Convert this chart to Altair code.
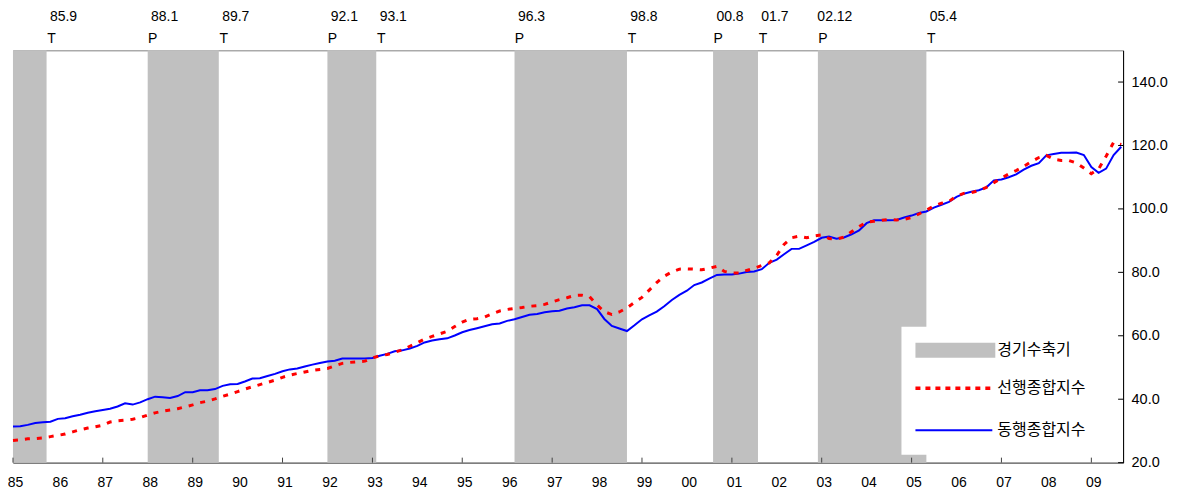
import altair as alt
import pandas as pd

# ---------------- data ----------------
# bi-monthly observations, Jan 1985 .. Sep 2009
first_month = "1985-01-01"
n_obs = 149

leading_index = [
    27.0, 27.2, 27.5, 27.6, 27.8, 28.2, 28.6, 29.0, 29.7, 30.4,
    30.9, 31.3, 31.8, 32.8, 33.2, 33.4, 33.7, 34.2, 35.0, 35.7,
    36.2, 36.6, 37.0, 37.6, 38.2, 38.9, 39.4, 40.1, 40.9, 41.6,
    42.4, 43.2, 43.9, 44.6, 45.3, 46.0, 46.9, 47.6, 48.1, 48.6,
    49.1, 49.4, 49.7, 50.5, 51.3, 51.6, 51.8, 52.0, 53.0, 53.7,
    54.1, 54.8, 55.6, 56.7, 57.8, 59.0, 59.8, 60.6, 61.4, 62.9,
    64.3, 65.2, 65.4, 65.9, 66.9, 67.8, 68.3, 68.6, 68.9, 69.3,
    69.5, 69.9, 70.7, 71.4, 72.0, 72.7, 72.8, 72.3, 69.7, 67.6,
    66.7, 67.5, 68.8, 70.5, 72.1, 74.4, 76.8, 78.8, 80.1, 81.0,
    81.1, 81.0, 80.8, 81.3, 81.9, 80.3, 79.8, 79.8, 80.6, 81.3,
    82.2, 83.0, 85.4, 88.8, 90.9, 91.4, 90.9, 91.5, 91.8, 90.7,
    90.5, 91.1, 92.8, 94.4, 95.9, 96.1, 96.4, 96.7, 96.5, 96.7,
    97.3, 98.4, 99.6, 100.9, 101.8, 102.4, 104.0, 104.9, 105.1, 105.8,
    106.8, 108.3, 109.7, 111.0, 112.1, 113.4, 114.9, 116.2, 116.9, 115.7,
    115.3, 115.3, 114.5, 112.9, 111.1, 112.6, 116.6, 121.0, 120.3,
]

coincident_index = [
    31.4, 31.5, 31.9, 32.5, 32.7, 32.9, 33.8, 34.0, 34.6, 35.1,
    35.7, 36.2, 36.6, 37.0, 37.7, 38.7, 38.3, 39.0, 40.0, 40.8,
    40.6, 40.4, 41.0, 42.2, 42.2, 42.8, 42.8, 43.2, 44.2, 44.7,
    44.8, 45.6, 46.5, 46.6, 47.3, 48.0, 48.8, 49.4, 49.7, 50.3,
    50.9, 51.4, 51.9, 52.1, 52.8, 52.8, 52.8, 52.8, 53.0, 53.7,
    54.3, 55.1, 55.4, 56.0, 56.8, 57.9, 58.5, 58.9, 59.2, 60.1,
    61.1, 61.8, 62.4, 63.0, 63.6, 63.9, 64.7, 65.2, 65.9, 66.6,
    66.9, 67.4, 67.7, 67.9, 68.6, 69.0, 69.6, 69.6, 68.4, 65.3,
    63.1, 62.3, 61.5, 63.3, 65.2, 66.4, 67.6, 69.3, 71.3, 72.9,
    74.2, 76.0, 76.8, 78.0, 79.2, 79.3, 79.3, 79.6, 80.1, 80.3,
    81.0, 83.0, 84.0, 85.7, 87.4, 87.4, 88.5, 89.6, 90.9, 91.3,
    90.6, 91.0, 92.0, 93.2, 95.5, 96.4, 96.4, 96.4, 96.5, 97.3,
    97.9, 98.7, 99.2, 100.4, 101.3, 102.2, 103.8, 104.8, 105.4, 105.9,
    106.8, 109.0, 109.3, 110.0, 110.9, 112.4, 113.6, 114.4, 116.9, 117.3,
    117.7, 117.7, 117.8, 117.0, 113.2, 111.4, 112.7, 117.0, 119.6,
]

# business-cycle contractions (peak month -> trough month)
contraction_start = ["1985-01", "1988-01", "1992-01", "1996-03", "2000-08", "2002-12"]
contraction_end = ["1985-09", "1989-07", "1993-01", "1998-08", "2001-07", "2005-04"]

# turning points shown above the plot
turn_labels = ["85.9", "88.1", "89.7", "92.1", "93.1", "96.3", "98.8", "00.8", "01.7", "02.12", "05.4"]
turn_types = ["T", "P", "T", "P", "T", "P", "T", "P", "T", "P", "T"]
turn_months = ["1985-09", "1988-01", "1989-07", "1992-01", "1993-01", "1996-03",
               "1998-08", "2000-08", "2001-07", "2002-12", "2005-04"]

year_labels = list(range(1985, 2010))
y_ticks = [20, 40, 60, 80, 100, 120, 140]

legend_labels = ["경기수축기", "선행종합지수", "동행종합지수"]

# ---------------- tables ----------------
W, H = 1112, 413
dates = pd.date_range(first_month, periods=n_obs, freq="2MS").strftime("%Y-%m-%d")
lead_df = pd.DataFrame({"date": dates, "value": leading_index})
coin_df = pd.DataFrame({"date": dates, "value": coincident_index})

rec_df = pd.DataFrame({
    "start": pd.to_datetime(contraction_start).strftime("%Y-%m-%d"),
    "end": (pd.to_datetime(contraction_end) + pd.DateOffset(months=1)).strftime("%Y-%m-%d"),
})

tp = pd.to_datetime(turn_months)
edge = [t + pd.DateOffset(months=1) if k == "T" else t for t, k in zip(tp, turn_types)]
turn_df = pd.DataFrame({
    "date": pd.DatetimeIndex(edge).strftime("%Y-%m-%d"),
    "label": turn_labels,
    "kind": turn_types,
})

odd_ticks_df = pd.DataFrame({"date": [f"{y}-01-01" for y in year_labels if y % 2 == 1]})
ytick_df = pd.DataFrame({"v": y_ticks})

FONT = "Liberation Sans"
KFONT = "Noto Sans CJK KR"

x_scale = alt.Scale(type="utc",
                    domain=[alt.DateTime(year=1985, month=1, date=1, utc=True),
                            alt.DateTime(year=2009, month=9, date=16, utc=True)])
x_axis = alt.Axis(
    values=[alt.DateTime(year=y, month=1, date=1, utc=True) for y in year_labels],
    format="%y", tickSize=0, grid=False, domainColor="#606060", title=None,
    labelPadding=13, labelFontSize=14, labelFont=FONT, labelColor="black",
    labelOffset=2, labelFlush=False, labelOverlap=False,
)
y_scale = alt.Scale(domain=[20, 150], nice=False, zero=False)
y_axis = alt.Axis(
    orient="right", values=y_ticks, format=".1f", tickSize=0, grid=False,
    domainColor="black", title=None, labelPadding=8, labelFontSize=14.5,
    labelFont=FONT, labelColor="black",
)

X = lambda f: alt.X(f, type="temporal", scale=x_scale, axis=x_axis)

shade = alt.Chart(rec_df).mark_rect(color="#c0c0c0").encode(
    x=X("start"), x2="end:T", y=alt.value(0), y2=alt.value(H)
)

one = pd.DataFrame({"k": [0]})
legend_box = alt.Chart(one).mark_rect(color="white").encode(
    x=alt.value(890), x2=alt.value(1104), y=alt.value(277), y2=alt.value(405)
)

blue = alt.Chart(coin_df).mark_line(color="#0000ff", strokeWidth=2).encode(
    x=X("date"),
    y=alt.Y("value:Q", scale=y_scale, axis=y_axis),
)
red = alt.Chart(lead_df).mark_line(color="#ff0000", strokeWidth=3, strokeDash=[5, 7]).encode(
    x=X("date"),
    y=alt.Y("value:Q", scale=y_scale, axis=y_axis),
)

xticks = alt.Chart(odd_ticks_df).mark_rule(color="#404040").encode(
    x=X("date"), y=alt.value(H - 5), y2=alt.value(H)
)
yticks = alt.Chart(ytick_df).mark_rule(color="black").encode(
    y=alt.Y("v:Q", scale=y_scale, axis=y_axis), x=alt.value(W - 5), x2=alt.value(W)
)

turn_date_text = alt.Chart(turn_df).mark_text(
    font=FONT, fontSize=14, color="black", dx=17, baseline="middle", align="center"
).encode(x=X("date"), y=alt.value(-33), text="label:N")
turn_kind_text = alt.Chart(turn_df).mark_text(
    font=FONT, fontSize=14, color="black", dx=5, baseline="middle", align="center"
).encode(x=X("date"), y=alt.value(-11), text="kind:N")

leg_rect = alt.Chart(one).mark_rect(color="#c0c0c0").encode(
    x=alt.value(904), x2=alt.value(984), y=alt.value(293), y2=alt.value(308)
)
leg_red = alt.Chart(one).mark_rule(color="#ff0000", strokeWidth=3.5, strokeDash=[5, 5]).encode(
    x=alt.value(904), x2=alt.value(982), y=alt.value(338.5)
)
leg_blue = alt.Chart(one).mark_rule(color="#0000ff", strokeWidth=2).encode(
    x=alt.value(904), x2=alt.value(981), y=alt.value(380.5)
)
leg_texts = []
for lab, ypos in zip(legend_labels, [300, 338, 380]):
    leg_texts.append(
        alt.Chart(pd.DataFrame({"label": [lab]})).mark_text(
            font=KFONT, fontSize=16, color="black", align="left", baseline="middle"
        ).encode(x=alt.value(986), y=alt.value(ypos), text="label:N")
    )

chart = alt.layer(
    shade, legend_box, blue, red, xticks, yticks,
    turn_date_text, turn_kind_text, leg_rect, leg_red, leg_blue, *leg_texts,
).properties(
    width=W, height=H,
    padding={"left": 5, "top": 42, "right": 50, "bottom": 28},
    autosize=alt.AutoSizeParams(type="none"),
).configure_view(stroke="#808080", strokeWidth=1)

chart.save("out.html", embed_options={"renderer": "svg", "actions": False})
